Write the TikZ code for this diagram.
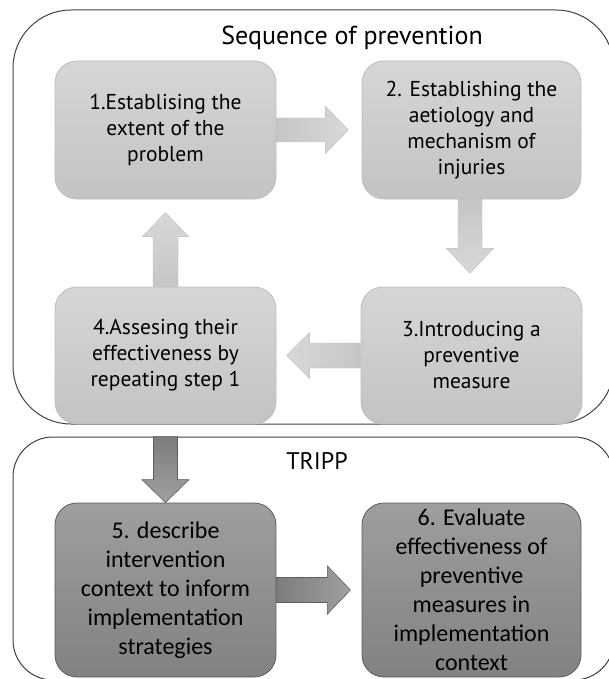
\documentclass[tikz,border=0pt]{standalone}
\usepackage{fontspec}
\setmainfont{PT Sans}
\newfontfamily\bodyfont{Carlito}
\usetikzlibrary{calc}

\definecolor{frameline}{HTML}{404040}
\definecolor{lighttop}{HTML}{D6D6D6}
\definecolor{lightbot}{HTML}{C3C3C3}
\definecolor{lightedge}{HTML}{BDBDBD}
\definecolor{darktop}{HTML}{9E9E9E}
\definecolor{darkbot}{HTML}{828282}
\definecolor{darkedge}{HTML}{5C5C5C}
\definecolor{arrowA}{HTML}{C6C6C6}
\definecolor{arrowB}{HTML}{D8D8D8}
\definecolor{darkarrowA}{HTML}{7C7C7C}
\definecolor{darkarrowB}{HTML}{A0A0A0}

\tikzset{
  frame/.style={draw=frameline, line width=1pt, fill=none, inner sep=0pt},
  title/.style={font=\fontsize{26}{30}\selectfont, inner sep=0pt},
  stepbox/.style={rectangle, rounded corners=22pt, draw=lightedge, line width=0.8pt,
    top color=lighttop, bottom color=lightbot, align=center, inner sep=0pt,
    minimum width=221pt, minimum height=138pt,
    font=\fontsize{21.5}{26}\selectfont},
  trippbox/.style={rectangle, rounded corners=22pt, draw=darkedge, line width=0.8pt,
    top color=darktop, bottom color=darkbot, align=center, inner sep=0pt,
    minimum width=221pt, minimum height=174pt,
    font=\bodyfont\fontsize{24}{29}\selectfont},
  lightarrow/.style={draw=lightedge, line width=0.4pt},
  darkarrow/.style={draw=darkedge, line width=0.6pt},
}

% block arrow: tail centre at the current shift origin, pointing along +x
\newcommand{\blockarrowpath}[4]{% length, shaft half width, head half width, head length
  (0,#2) -- (#1-#4,#2) -- (#1-#4,#3) -- (#1,0) -- (#1-#4,-#3) -- (#1-#4,-#2) -- (0,-#2) -- cycle}

\begin{document}
\begin{tikzpicture}[x=1pt,y=-1pt]
\useasboundingbox (0,0) rectangle (608,679);

% outer frames (their right sides run past the page edge)
\node[frame, rectangle, rounded corners=58pt, minimum width=601pt, minimum height=414pt]
  (seq) at (313.5,217) {};
\node[frame, rectangle, rounded corners=40pt, minimum width=601pt, minimum height=243pt]
  (tripp) at (313.5,558.5) {};
\node[title] (seqtitle) at (352,38) {Sequence of prevention};
\node[title, font=\fontsize{24}{28}\selectfont] (tripptitle) at (317,461) {TRIPP};

% steps of the prevention sequence
\node[stepbox] (s1) at (165.5,130) {1.Establising the\\extent of the\\problem};
\node[stepbox, minimum width=219pt] (s2) at (471.5,130) {2. Establishing the\\aetiology and\\mechanism  of\\injuries};
\node[stepbox, minimum height=137pt] (s3) at (471.5,355.5) {3.Introducing a\\preventive\\measure};
\node[stepbox, minimum height=137pt] (s4) at (165.5,355.5) {4.Assesing their\\effectiveness by\\repeating step 1};

% TRIPP steps
\node[trippbox] (s5) at (165.5,590) {5. describe\\intervention\\context to inform\\implementation\\strategies};
\node[trippbox, minimum width=219pt] (s6) at (471.5,590) {6. Evaluate\\effectiveness of\\preventive\\measures in\\implementation\\context};

% block arrows between the steps
\path[lightarrow, left color=arrowA, right color=arrowB, shift={(s1.east)}]
  \blockarrowpath{72}{12}{23.5}{23};
\path[lightarrow, top color=arrowA, bottom color=arrowB, shift={($(s2.south)+(-1.5,0)$)}, rotate=-90]
  \blockarrowpath{74}{12}{23.5}{25};
\path[lightarrow, left color=arrowB, right color=arrowA, shift={(s3.west)}, rotate=180]
  \blockarrowpath{74}{12.5}{23}{23};
\path[lightarrow, top color=arrowB, bottom color=arrowA, shift={(s4.north)}, rotate=90]
  \blockarrowpath{74}{12.5}{23}{24};
\path[darkarrow, top color=darkarrowA, bottom color=darkarrowB, shift={($(s5.north)+(0,-66)$)}, rotate=-90]
  \blockarrowpath{66}{12}{23.5}{23};
\path[darkarrow, left color=darkarrowA, right color=darkarrowB, shift={(s5.east)}]
  \blockarrowpath{74}{12.5}{24}{23};
\end{tikzpicture}
\end{document}
